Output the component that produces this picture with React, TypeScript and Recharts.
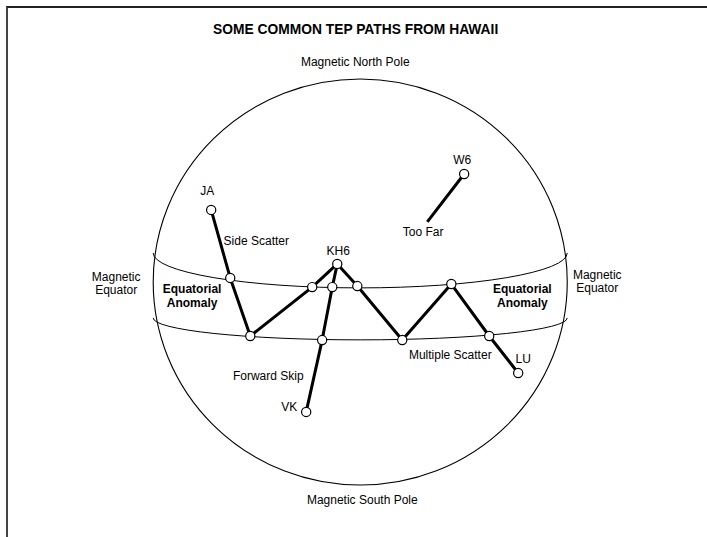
import React from 'react';
import { ScatterChart, Scatter, XAxis, YAxis, ReferenceArea } from 'recharts';

// Diagram coordinates: sphere centre = (0,0), sphere radius = 100 units
const sphereBox = { x1: -100, x2: 100, y1: -100, y2: 100 };
const upperEquatorBox = { x1: -100, x2: 100, y1: -2.9, y2: 31.5 };
const lowerEquatorBox = { x1: -100, x2: 100, y1: -28.5, y2: -6.9 };

const KH6 = { x: -11.1, y: 8.9 };

const sideScatterPath = [
  { x: -72.0, y: 35.5 }, // JA
  { x: -62.8, y: 2.0 },
  { x: -53.1, y: -26.6 },
  { x: -23.2, y: -2.5 },
  KH6,
];
const forwardSkipPath = [
  KH6,
  { x: -13.5, y: -2.5 },
  { x: -18.4, y: -28.6 },
  { x: -26.1, y: -64.0 }, // VK
];
const multipleScatterPath = [
  KH6,
  { x: -1.4, y: -2.0 },
  { x: 20.3, y: -28.6 },
  { x: 44.0, y: -1.0 },
  { x: 62.3, y: -26.6 },
  { x: 76.3, y: -44.8 }, // LU
];
const tooFarPath = [
  { x: 50.2, y: 53.2 }, // W6
  { x: 32.4, y: 29.6 },
];
const hopNodes = [
  ...sideScatterPath,
  ...forwardSkipPath.slice(1),
  ...multipleScatterPath.slice(1),
  tooFarPath[0],
];

const titleLabels = [{ x: -2.2, y: 124.6, text: 'SOME COMMON TEP PATHS FROM HAWAII' }];
const plainLabels = [
  { x: -2.4, y: 108.4, text: 'Magnetic North Pole' },
  { x: 1.0, y: -107.4, text: 'Magnetic South Pole' },
  { x: -50.2, y: 20.2, text: 'Side Scatter' },
  { x: -10.6, y: 15.3, text: 'KH6' },
  { x: -73.9, y: 44.8, text: 'JA' },
  { x: 49.3, y: 60.1, text: 'W6' },
  { x: 30.4, y: 24.6, text: 'Too Far' },
  { x: 43.5, y: -36.0, text: 'Multiple Scatter' },
  { x: 78.7, y: -37.9, text: 'LU' },
  { x: -44.4, y: -46.3, text: 'Forward Skip' },
  { x: -34.3, y: -61.6, text: 'VK' },
];
// two-line labels (centre of the block)
const plainBlockLabels = [
  { x: -117.9, y: -0.7, lines: ['Magnetic', 'Equator'] },
  { x: 114.5, y: 0.25, lines: ['Magnetic', 'Equator'] },
];
const boldBlockLabels = [
  { x: -81.2, y: -6.9, lines: ['Equatorial', 'Anomaly'] },
  { x: 78.3, y: -6.9, lines: ['Equatorial', 'Anomaly'] },
];

const FONT = '"Liberation Sans", Arial, Helvetica, sans-serif';

const EllipseShape = (p: any) => (
  <ellipse
    cx={p.x + p.width / 2}
    cy={p.y + p.height / 2}
    rx={p.width / 2}
    ry={p.height / 2}
    fill="none"
    stroke="#000"
    strokeWidth={1.1}
  />
);

const FrontArcShape = (p: any) => {
  const cy = p.y + p.height / 2;
  const rx = p.width / 2;
  const ry = p.height / 2;
  return (
    <path
      d={`M ${p.x} ${cy} A ${rx} ${ry} 0 0 0 ${p.x + p.width} ${cy}`}
      fill="none"
      stroke="#000"
      strokeWidth={1}
    />
  );
};

const NoMark = () => <g />;

const NodeShape = (p: any) => (
  <circle cx={p.cx} cy={p.cy} r={4.6} fill="#fff" stroke="#000" strokeWidth={1.2} />
);

const makeText = (size: number, weight: string) => (p: any) => (
  <text
    x={p.cx}
    y={p.cy}
    textAnchor="middle"
    dominantBaseline="central"
    fontFamily={FONT}
    fontSize={size}
    fontWeight={weight}
    fill="#000"
  >
    {p.payload.text}
  </text>
);

const makeBlockText = (size: number, weight: string, lineGap: number) => (p: any) => {
  const lines: string[] = p.payload.lines;
  const startDy = -((lines.length - 1) * lineGap) / 2;
  return (
    <text
      x={p.cx}
      y={p.cy + startDy}
      textAnchor="middle"
      dominantBaseline="central"
      fontFamily={FONT}
      fontSize={size}
      fontWeight={weight}
      fill="#000"
    >
      {lines.map((ln, i) => (
        <tspan key={i} x={p.cx} dy={i === 0 ? 0 : lineGap}>
          {ln}
        </tspan>
      ))}
    </text>
  );
};

const pathLine = { stroke: '#000', strokeWidth: 3, strokeLinejoin: 'round' as const, strokeLinecap: 'butt' as const };

export default function App() {
  return (
    <div style={{ position: 'absolute', left: 0, top: 0, width: 707, height: 537, background: '#fff' }}>
      <div
        style={{
          position: 'absolute',
          left: 6,
          top: 6,
          width: 701,
          height: 531,
          borderTop: '2px solid #222',
          borderLeft: '2px solid #444',
          boxSizing: 'border-box',
        }}
      />
      <div style={{ position: 'absolute', left: 0, top: 0 }}>
        <ScatterChart width={707} height={537} margin={{ top: 0, right: 0, bottom: 0, left: 0 }}>
          <XAxis type="number" dataKey="x" domain={[-174, 167.5]} hide allowDataOverflow />
          <YAxis type="number" dataKey="y" domain={[-125.6, 138.9]} hide allowDataOverflow />
          <ReferenceArea {...sphereBox} shape={EllipseShape} ifOverflow="visible" />
          <ReferenceArea {...upperEquatorBox} shape={FrontArcShape} ifOverflow="visible" />
          <ReferenceArea {...lowerEquatorBox} shape={FrontArcShape} ifOverflow="visible" />
          <Scatter data={sideScatterPath} line={pathLine} shape={NoMark} isAnimationActive={false} />
          <Scatter data={forwardSkipPath} line={pathLine} shape={NoMark} isAnimationActive={false} />
          <Scatter data={multipleScatterPath} line={pathLine} shape={NoMark} isAnimationActive={false} />
          <Scatter data={tooFarPath} line={pathLine} shape={NoMark} isAnimationActive={false} />
          <Scatter data={hopNodes} shape={NodeShape} isAnimationActive={false} />
          <Scatter data={plainLabels} shape={makeText(12, 'normal')} isAnimationActive={false} />
          <Scatter data={plainBlockLabels} shape={makeBlockText(12, 'normal', 13.6)} isAnimationActive={false} />
          <Scatter data={boldBlockLabels} shape={makeBlockText(12, 'bold', 13.6)} isAnimationActive={false} />
          <Scatter data={titleLabels} shape={makeText(13.8, 'bold')} isAnimationActive={false} />
        </ScatterChart>
      </div>
    </div>
  );
}
